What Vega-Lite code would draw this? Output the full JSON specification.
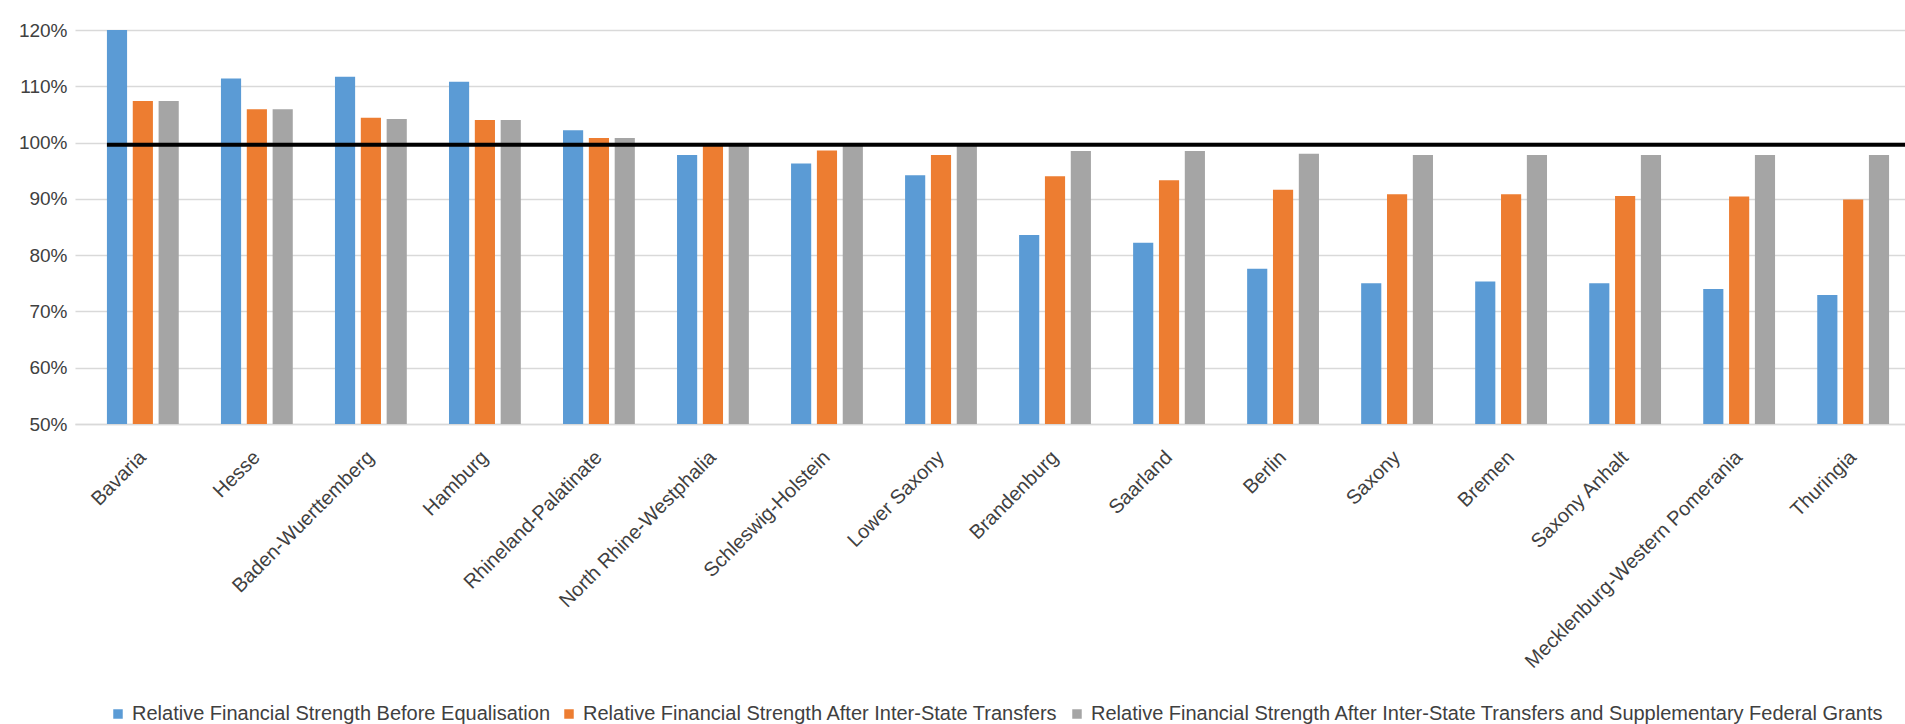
{
  "$schema": "https://vega.github.io/schema/vega-lite/v6.json",
  "autosize": "none",
  "width": 1830,
  "height": 394,
  "padding": {"left": 75, "top": 30, "right": 0, "bottom": 300},
  "background": "white",
  "config": {
    "view": {"stroke": null},
    "font": "Liberation Sans"
  },
  "layer": [
    {
      "data": {
        "values": [
          {"state": "Bavaria", "series": "Relative Financial Strength Before Equalisation", "value": 1.200},
          {"state": "Bavaria", "series": "Relative Financial Strength After Inter-State Transfers", "value": 1.074},
          {"state": "Bavaria", "series": "Relative Financial Strength After Inter-State Transfers and Supplementary Federal Grants", "value": 1.074},
          {"state": "Hesse", "series": "Relative Financial Strength Before Equalisation", "value": 1.114},
          {"state": "Hesse", "series": "Relative Financial Strength After Inter-State Transfers", "value": 1.059},
          {"state": "Hesse", "series": "Relative Financial Strength After Inter-State Transfers and Supplementary Federal Grants", "value": 1.059},
          {"state": "Baden-Wuerttemberg", "series": "Relative Financial Strength Before Equalisation", "value": 1.117},
          {"state": "Baden-Wuerttemberg", "series": "Relative Financial Strength After Inter-State Transfers", "value": 1.044},
          {"state": "Baden-Wuerttemberg", "series": "Relative Financial Strength After Inter-State Transfers and Supplementary Federal Grants", "value": 1.042},
          {"state": "Hamburg", "series": "Relative Financial Strength Before Equalisation", "value": 1.108},
          {"state": "Hamburg", "series": "Relative Financial Strength After Inter-State Transfers", "value": 1.040},
          {"state": "Hamburg", "series": "Relative Financial Strength After Inter-State Transfers and Supplementary Federal Grants", "value": 1.040},
          {"state": "Rhineland-Palatinate", "series": "Relative Financial Strength Before Equalisation", "value": 1.022},
          {"state": "Rhineland-Palatinate", "series": "Relative Financial Strength After Inter-State Transfers", "value": 1.008},
          {"state": "Rhineland-Palatinate", "series": "Relative Financial Strength After Inter-State Transfers and Supplementary Federal Grants", "value": 1.008},
          {"state": "North Rhine-Westphalia", "series": "Relative Financial Strength Before Equalisation", "value": 0.978},
          {"state": "North Rhine-Westphalia", "series": "Relative Financial Strength After Inter-State Transfers", "value": 0.997},
          {"state": "North Rhine-Westphalia", "series": "Relative Financial Strength After Inter-State Transfers and Supplementary Federal Grants", "value": 0.997},
          {"state": "Schleswig-Holstein", "series": "Relative Financial Strength Before Equalisation", "value": 0.963},
          {"state": "Schleswig-Holstein", "series": "Relative Financial Strength After Inter-State Transfers", "value": 0.986},
          {"state": "Schleswig-Holstein", "series": "Relative Financial Strength After Inter-State Transfers and Supplementary Federal Grants", "value": 0.997},
          {"state": "Lower Saxony", "series": "Relative Financial Strength Before Equalisation", "value": 0.942},
          {"state": "Lower Saxony", "series": "Relative Financial Strength After Inter-State Transfers", "value": 0.978},
          {"state": "Lower Saxony", "series": "Relative Financial Strength After Inter-State Transfers and Supplementary Federal Grants", "value": 0.997},
          {"state": "Brandenburg", "series": "Relative Financial Strength Before Equalisation", "value": 0.836},
          {"state": "Brandenburg", "series": "Relative Financial Strength After Inter-State Transfers", "value": 0.940},
          {"state": "Brandenburg", "series": "Relative Financial Strength After Inter-State Transfers and Supplementary Federal Grants", "value": 0.985},
          {"state": "Saarland", "series": "Relative Financial Strength Before Equalisation", "value": 0.822},
          {"state": "Saarland", "series": "Relative Financial Strength After Inter-State Transfers", "value": 0.933},
          {"state": "Saarland", "series": "Relative Financial Strength After Inter-State Transfers and Supplementary Federal Grants", "value": 0.985},
          {"state": "Berlin", "series": "Relative Financial Strength Before Equalisation", "value": 0.776},
          {"state": "Berlin", "series": "Relative Financial Strength After Inter-State Transfers", "value": 0.916},
          {"state": "Berlin", "series": "Relative Financial Strength After Inter-State Transfers and Supplementary Federal Grants", "value": 0.980},
          {"state": "Saxony", "series": "Relative Financial Strength Before Equalisation", "value": 0.750},
          {"state": "Saxony", "series": "Relative Financial Strength After Inter-State Transfers", "value": 0.908},
          {"state": "Saxony", "series": "Relative Financial Strength After Inter-State Transfers and Supplementary Federal Grants", "value": 0.978},
          {"state": "Bremen", "series": "Relative Financial Strength Before Equalisation", "value": 0.753},
          {"state": "Bremen", "series": "Relative Financial Strength After Inter-State Transfers", "value": 0.908},
          {"state": "Bremen", "series": "Relative Financial Strength After Inter-State Transfers and Supplementary Federal Grants", "value": 0.978},
          {"state": "Saxony Anhalt", "series": "Relative Financial Strength Before Equalisation", "value": 0.750},
          {"state": "Saxony Anhalt", "series": "Relative Financial Strength After Inter-State Transfers", "value": 0.905},
          {"state": "Saxony Anhalt", "series": "Relative Financial Strength After Inter-State Transfers and Supplementary Federal Grants", "value": 0.978},
          {"state": "Mecklenburg-Western Pomerania", "series": "Relative Financial Strength Before Equalisation", "value": 0.740},
          {"state": "Mecklenburg-Western Pomerania", "series": "Relative Financial Strength After Inter-State Transfers", "value": 0.904},
          {"state": "Mecklenburg-Western Pomerania", "series": "Relative Financial Strength After Inter-State Transfers and Supplementary Federal Grants", "value": 0.978},
          {"state": "Thuringia", "series": "Relative Financial Strength Before Equalisation", "value": 0.729},
          {"state": "Thuringia", "series": "Relative Financial Strength After Inter-State Transfers", "value": 0.899},
          {"state": "Thuringia", "series": "Relative Financial Strength After Inter-State Transfers and Supplementary Federal Grants", "value": 0.978}
        ]
      },
      "mark": {"type": "bar", "clip": true},
      "encoding": {
        "x": {
          "field": "state",
          "type": "nominal",
          "sort": null,
          "scale": {"range": [0, 1846], "paddingInner": 0.37, "paddingOuter": 0.28},
          "axis": {
            "title": null,
            "labelAngle": -45,
            "labelAlign": "right",
            "labelBaseline": "middle",
            "labelFontSize": 20,
            "labelColor": "#404040",
            "labelPadding": 30,
            "ticks": false,
            "domain": true,
            "domainColor": "#d9d9d9",
            "domainWidth": 1.5,
            "labelOverlap": false,
            "labelLimit": 500
          }
        },
        "xOffset": {
          "field": "series",
          "type": "nominal",
          "sort": [
            "Relative Financial Strength Before Equalisation",
            "Relative Financial Strength After Inter-State Transfers",
            "Relative Financial Strength After Inter-State Transfers and Supplementary Federal Grants"
          ],
          "scale": {"paddingInner": 0.22, "paddingOuter": 0}
        },
        "y": {
          "field": "value",
          "type": "quantitative",
          "scale": {"domain": [0.5, 1.2], "zero": false, "nice": false},
          "axis": {
            "title": null,
            "format": ".0%",
            "values": [0.5, 0.6, 0.7, 0.8, 0.9, 1.0, 1.1, 1.2],
            "labelFontSize": 19,
            "labelColor": "#404040",
            "labelPadding": 8,
            "ticks": false,
            "domain": false,
            "grid": true,
            "gridColor": "#d9d9d9",
            "gridWidth": 1.5
          }
        },
        "color": {
          "field": "series",
          "type": "nominal",
          "scale": {
            "domain": [
              "Relative Financial Strength Before Equalisation",
              "Relative Financial Strength After Inter-State Transfers",
              "Relative Financial Strength After Inter-State Transfers and Supplementary Federal Grants"
            ],
            "range": ["#5b9bd5", "#ed7d31", "#a5a5a5"]
          },
          "legend": {
            "title": null,
            "orient": "none",
            "direction": "horizontal",
            "legendX": 33,
            "legendY": 674,
            "symbolType": "square",
            "symbolSize": 90,
            "symbolStrokeWidth": 0,
            "labelFontSize": 20,
            "labelColor": "#404040",
            "labelOffset": 4,
            "columnPadding": 8,
            "labelLimit": 1000
          }
        }
      }
    },
    {
      "data": {"values": [{}]},
      "mark": {"type": "rule", "color": "#000000", "strokeWidth": 4},
      "encoding": {
        "x": {"datum": "Bavaria", "bandPosition": 0},
        "x2": {"value": "width"},
        "y": {"datum": 0.996}
      }
    }
  ]
}
